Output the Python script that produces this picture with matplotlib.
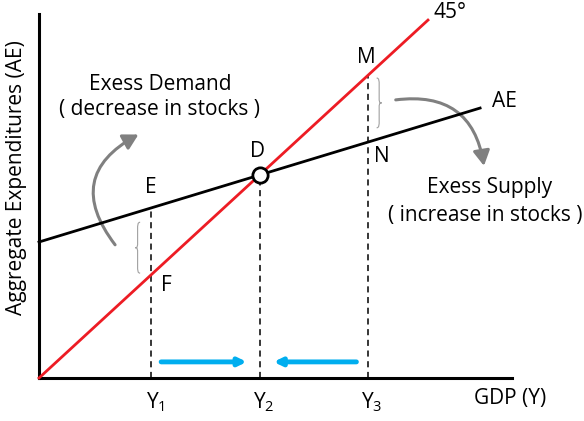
import numpy as np
import matplotlib
matplotlib.use("Agg")
import matplotlib.pyplot as plt
from matplotlib.patches import FancyArrowPatch, PathPatch
from matplotlib.path import Path

plt.rcParams['font.family'] = ['Open Sans', 'DejaVu Sans']
plt.rcParams['mathtext.fontset'] = 'custom'
plt.rcParams['mathtext.rm'] = 'Open Sans'

# Keynesian cross model
ae_intercept = 3.8
ae_slope = 0.33
y_levels = [2.88, 3.8 / (1 - 0.33), 8.46]     # Y1, Y2 (equilibrium), Y3
y_labels = ['Y$_\\mathregular{1}$', 'Y$_\\mathregular{2}$', 'Y$_\\mathregular{3}$']
line45_x = [0, 10.0]
ae_x = [0, 11.34]

RED = '#ED1C24'
BLUE = '#00AEEF'
GRAY = '#808080'
FS = 15


def ae(x):
    return ae_intercept + ae_slope * np.asarray(x)


def brace(ax, x0, y_lo, y_hi, w, side):
    # side = -1 for "{" (tip on left), +1 for "}"
    ym = (y_lo + y_hi) / 2
    h = y_hi - y_lo
    xm = x0 + side * w / 2
    xt = x0 + side * w
    verts = [(x0, y_hi),
             (xm, y_hi), (xm, y_hi - 0.05 * h), (xm, y_hi - 0.15 * h),
             (xm, ym + 0.12 * h),
             (xm, ym + 0.02 * h), (xm, ym), (xt, ym),
             (xm, ym), (xm, ym - 0.02 * h), (xm, ym - 0.12 * h),
             (xm, y_lo + 0.15 * h),
             (xm, y_lo + 0.05 * h), (xm, y_lo), (x0, y_lo)]
    codes = [Path.MOVETO,
             Path.CURVE4, Path.CURVE4, Path.CURVE4,
             Path.LINETO,
             Path.CURVE4, Path.CURVE4, Path.CURVE4,
             Path.CURVE4, Path.CURVE4, Path.CURVE4,
             Path.LINETO,
             Path.CURVE4, Path.CURVE4, Path.CURVE4]
    ax.add_patch(PathPatch(Path(verts, codes), fill=False, ec='#A0A0A0', lw=0.8))


fig = plt.figure(figsize=(5.84, 4.21), dpi=100)
ax = fig.add_axes([39 / 584, 43 / 421, 473 / 584, 364 / 421])
ax.set_xlim(0, 12.16)
ax.set_ylim(0, 10.17)
for s in ['top', 'right']:
    ax.spines[s].set_visible(False)
for s in ['left', 'bottom']:
    ax.spines[s].set_linewidth(2.2)
ax.set_xticks([])
ax.set_yticks([])

# curves
ax.plot(line45_x, line45_x, color=RED, lw=2, clip_on=False, zorder=3)
ax.plot(ae_x, ae(ae_x), color='black', lw=2, clip_on=False, zorder=3)

# dashed guides and tick labels
y1, y2, y3 = y_levels
tops = [ae(y1), y2, y3]
for x, top, lab in zip(y_levels, tops, y_labels):
    ax.plot([x, x], [0, top], color='black', lw=1.1, dashes=(4, 3), zorder=2)
    ax.annotate(lab, (x, 0), xytext=(4, -24), textcoords='offset pixels',
                ha='center', va='center', fontsize=FS, annotation_clip=False)

ax.plot([y2], [y2], marker='o', ms=11, mfc='white', mec='black', mew=2,
        zorder=5)

# point labels
pts = {'E': ((y1, ae(y1)), (0, 20)), 'F': ((y1, y1), (15, -11)),
       'D': ((y2, y2), (-2, 24)), 'M': ((y3, y3), (-2, 18)),
       'N': ((y3, ae(y3)), (14, -14)),
       'AE': ((ae_x[1], ae(ae_x[1])), (24, 7)),
       '45°': ((line45_x[1], line45_x[1]), (22, 8))}
for lab, (xy, off) in pts.items():
    ax.annotate(lab, xy, xytext=off, textcoords='offset pixels',
                ha='center', va='center', fontsize=FS, annotation_clip=False)

# braces
brace(ax, y1 - 0.28, y1 + 0.05, ae(y1) - 0.4, 0.13, -1)
brace(ax, y3 + 0.22, ae(y3) + 0.4, y3 - 0.08, 0.13, 1)

# gray curved arrows
ax.add_patch(FancyArrowPatch((2.0, 3.66), (2.62, 6.84),
                             connectionstyle='arc3,rad=-0.6',
                             arrowstyle='-|>,head_length=9,head_width=5',
                             color=GRAY, lw=2.2, clip_on=False))
ax.add_patch(FancyArrowPatch((9.1, 7.76), (11.45, 5.85),
                             connectionstyle='arc3,rad=-0.5',
                             arrowstyle='-|>,head_length=9,head_width=5',
                             color=GRAY, lw=2.2, clip_on=False))

# blue adjustment arrows
ax.annotate('', xy=(y2 - 0.33, 0.45), xytext=(y1 + 0.26, 0.45),
            arrowprops=dict(arrowstyle='-|>,head_length=0.45,head_width=0.22',
                            color=BLUE, lw=3.5, shrinkA=0, shrinkB=0))
ax.annotate('', xy=(y2 + 0.36, 0.45), xytext=(y3 - 0.3, 0.45),
            arrowprops=dict(arrowstyle='-|>,head_length=0.45,head_width=0.22',
                            color=BLUE, lw=3.5, shrinkA=0, shrinkB=0))

# texts
ax.text(3.11, 8.21, 'Exess Demand', ha='center', va='center', fontsize=FS)
ax.text(3.11, 7.49, '( decrease in stocks )', ha='center', va='center', fontsize=FS)
ax.text(11.59, 5.31, 'Exess Supply', ha='center', va='center', fontsize=FS)
ax.text(11.47, 4.55, '( increase in stocks )', ha='center', va='center',
        fontsize=FS, clip_on=False)
ax.text(12.1, -0.56, 'GDP (Y)', ha='center', va='center', fontsize=FS)
ax.text(-0.57, 5.59, 'Aggregate Expenditures (AE)', rotation=90,
        ha='center', va='center', fontsize=FS)

fig.savefig('out.png', dpi=100)
